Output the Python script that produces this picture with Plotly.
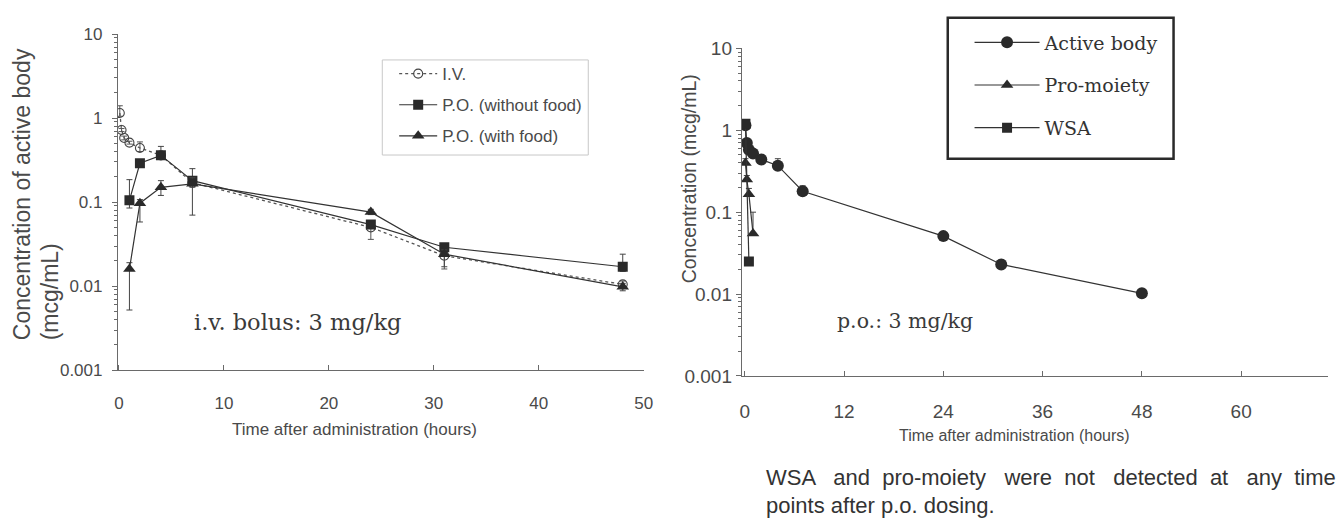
import plotly.graph_objects as go

# ---------------- data (left panel: i.v. bolus 3 mg/kg) ----------------
iv_time = [0.083, 0.25, 0.5, 1, 2, 4, 7, 24, 31, 48]
iv_conc = [1.15, 0.72, 0.58, 0.51, 0.44, 0.36, 0.17, 0.05, 0.023, 0.0105]
iv_err_plus = [0.25, 0.03, 0.03, 0.02, 0.08, 0.02, 0.02, 0.004, 0.002, 0.001]
iv_err_minus = [0.1, 0.03, 0.03, 0.02, 0.04, 0.02, 0.02, 0.014, 0.007, 0.001]

po_time = [1, 2, 4, 7, 24, 31, 48]
po_nofood_conc = [0.105, 0.29, 0.36, 0.18, 0.054, 0.029, 0.017]
po_nofood_plus = [0.08, 0.03, 0.1, 0.07, 0.005, 0.003, 0.007]
po_nofood_minus = [0.02, 0.02, 0.03, 0.02, 0.004, 0.004, 0.002]

po_food_conc = [0.016, 0.097, 0.15, 0.165, 0.076, 0.024, 0.0098]
po_food_plus = [0.003, 0.01, 0.03, 0.03, 0.006, 0.003, 0.001]
po_food_minus = [0.0108, 0.039, 0.03, 0.095, 0.005, 0.007, 0.001]

# ---------------- data (right panel: p.o. 3 mg/kg) ----------------
ab_time = [0.083, 0.25, 0.5, 1, 2, 4, 7, 24, 31, 48]
ab_conc = [1.15, 0.7, 0.58, 0.52, 0.44, 0.37, 0.18, 0.051, 0.023, 0.0102]
ab_err_plus = [0.1, 0.05, 0.03, 0.03, 0.03, 0.08, 0.03, 0.003, 0.003, 0.001]

pm_time = [0.083, 0.25, 0.5, 1]
pm_conc = [0.4, 0.25, 0.165, 0.055]
pm_err_plus = [0.05, 0.03, 0.03, 0.045]

wsa_time = [0.083, 0.5]
wsa_conc = [1.2, 0.025]
wsa_err_plus = [0.1, 0.0]

log_ticks = [0.001, 0.01, 0.1, 1, 10]
log_tick_text = ["0.001", "0.01", "0.1", "1", "10"]
log_minor = [k * 10.0 ** e for e in range(-3, 1) for k in range(2, 10)]
left_xticks = [0, 10, 20, 30, 40, 50]
right_xticks = [0, 12, 24, 36, 48, 60]

# ---------------- layout helpers ----------------
W, H = 1341, 531
def px(x):
    return x / W
def py(y):
    return 1 - y / H

SANS = "Arial, Liberation Sans, sans-serif"
SERIF = "DejaVu Serif, Liberation Serif, serif"
LINE = "#333333"
MK = "#2a2a2a"
AX = "#6a6a6a"
TXT = "#4a4a4a"

fig = go.Figure()

# left traces
fig.add_trace(go.Scatter(
    x=iv_time, y=iv_conc, name="I.V.", mode="lines+markers",
    line=dict(color="#555555", width=1.3, dash="dot"),
    marker=dict(symbol="circle-open", size=9, color="#444444", line=dict(width=1.1)),
    error_y=dict(type="data", symmetric=False, array=iv_err_plus, arrayminus=iv_err_minus,
                 color="#555555", thickness=1, width=3),
    xaxis="x", yaxis="y", legend="legend", legendgroup="a"))
fig.add_trace(go.Scatter(
    x=po_time, y=po_nofood_conc, name="P.O. (without food)", mode="lines+markers",
    line=dict(color=LINE, width=1.2),
    marker=dict(symbol="square", size=10, color=MK),
    error_y=dict(type="data", symmetric=False, array=po_nofood_plus, arrayminus=po_nofood_minus,
                 color="#444444", thickness=1, width=3),
    xaxis="x", yaxis="y", legend="legend", legendgroup="b"))
fig.add_trace(go.Scatter(
    x=po_time, y=po_food_conc, name="P.O. (with food)", mode="lines+markers",
    line=dict(color=LINE, width=1.2),
    marker=dict(symbol="triangle-up", size=11, color=MK),
    error_y=dict(type="data", symmetric=False, array=po_food_plus, arrayminus=po_food_minus,
                 color="#444444", thickness=1, width=3),
    xaxis="x", yaxis="y", legend="legend", legendgroup="c"))

# right traces
fig.add_trace(go.Scatter(
    x=ab_time, y=ab_conc, name="Active body", mode="lines+markers",
    line=dict(color=LINE, width=1.2),
    marker=dict(symbol="circle", size=12, color=MK),
    error_y=dict(type="data", symmetric=False, array=ab_err_plus,
                 arrayminus=[0] * len(ab_conc), color="#444444", thickness=1, width=3),
    xaxis="x2", yaxis="y2", legend="legend2", legendgroup="d"))
fig.add_trace(go.Scatter(
    x=pm_time, y=pm_conc, name="Pro-moiety", mode="lines+markers",
    line=dict(color=LINE, width=1.2),
    marker=dict(symbol="triangle-up", size=11, color=MK),
    error_y=dict(type="data", symmetric=False, array=pm_err_plus,
                 arrayminus=[0] * len(pm_conc), color="#444444", thickness=1, width=3),
    xaxis="x2", yaxis="y2", legend="legend2", legendgroup="e"))
fig.add_trace(go.Scatter(
    x=wsa_time, y=wsa_conc, name="WSA", mode="lines+markers",
    line=dict(color=LINE, width=1.2),
    marker=dict(symbol="square", size=10, color=MK),
    error_y=dict(type="data", symmetric=False, array=wsa_err_plus,
                 arrayminus=[0] * len(wsa_conc), color="#444444", thickness=1, width=3),
    xaxis="x2", yaxis="y2", legend="legend2", legendgroup="f"))

axis_common = dict(showgrid=False, zeroline=False, showline=True, linecolor=AX, linewidth=1,
                   tickcolor=AX, ticklen=5, tickwidth=1)

fig.update_layout(
    width=W, height=H, autosize=False,
    margin=dict(l=0, r=0, t=0, b=0),
    paper_bgcolor="white", plot_bgcolor="white",
    xaxis=dict(axis_common, domain=[px(115), px(646)], range=[-0.1, 50],
               tickvals=left_xticks, ticks="inside", ticklabelstandoff=17,
               tickfont=dict(family=SANS, size=17, color=TXT), anchor="y"),
    yaxis=dict(axis_common, domain=[py(375), py(25)], type="log", range=[-3, 1],
               tickvals=log_ticks, ticktext=log_tick_text, ticks="outside",
               ticklabelstandoff=6,
               minor=dict(ticks="outside", ticklen=3, tickcolor=AX, showgrid=False,
                          tickvals=log_minor),
               tickfont=dict(family=SANS, size=17, color=TXT), anchor="x"),
    xaxis2=dict(axis_common, domain=[px(745), px(1337)], range=[-0.36, 70.5],
                tickvals=right_xticks, ticks="inside", ticklabelstandoff=18,
                tickfont=dict(family=SANS, size=19, color=TXT), anchor="y2"),
    yaxis2=dict(axis_common, domain=[py(381), py(40)], type="log", range=[-3, 1],
                tickvals=log_ticks, ticktext=log_tick_text, ticks="outside",
                ticklabelstandoff=0,
                minor=dict(ticks="outside", ticklen=3, tickcolor=AX, showgrid=False,
                           tickvals=log_minor),
                tickfont=dict(family=SANS, size=19, color=TXT), anchor="x2"),
    legend=dict(x=px(394), y=py(48), xanchor="left", yanchor="top",
                bgcolor="rgba(0,0,0,0)", borderwidth=0, itemwidth=38,
                tracegroupgap=6, font=dict(family=SANS, size=17, color=TXT)),
    legend2=dict(x=px(975), y=py(14), xanchor="left", yanchor="top",
                 bgcolor="rgba(0,0,0,0)", borderwidth=0, itemwidth=65,
                 tracegroupgap=15, font=dict(family=SERIF, size=19, color="#333333")),
    showlegend=True,
)

# legend frames
fig.add_shape(type="rect", xref="paper", yref="paper",
              x0=px(382), x1=px(590), y0=py(151), y1=py(52),
              line=dict(color="#c8c8c8", width=1))
fig.add_shape(type="rect", xref="paper", yref="paper",
              x0=px(953), x1=px(1181), y0=py(155), y1=py(8),
              line=dict(color="#2a2a2a", width=2.5))

ann = []
# axis titles
ann.append(dict(text="Concentration of active body", x=px(19), y=py(346), xref="paper", yref="paper",
                xanchor="center", yanchor="bottom", textangle=-90, showarrow=False,
                font=dict(family=SANS, size=23, color=TXT)))
ann.append(dict(text="(mcg/mL)", x=px(46), y=py(346), xref="paper", yref="paper",
                xanchor="center", yanchor="bottom", textangle=-90, showarrow=False,
                font=dict(family=SANS, size=23, color=TXT)))
ann.append(dict(text="Time after administration (hours)", x=px(354), y=py(437), xref="paper", yref="paper",
                xanchor="center", yanchor="middle", showarrow=False,
                font=dict(family=SANS, size=17, color=TXT)))
ann.append(dict(text="Concentration (mcg/mL)", x=px(692), y=py(176), xref="paper", yref="paper",
                xanchor="center", yanchor="middle", textangle=-90, showarrow=False,
                font=dict(family=SANS, size=19.5, color=TXT)))
ann.append(dict(text="Time after administration (hours)", x=px(1020), y=py(443), xref="paper", yref="paper",
                xanchor="center", yanchor="middle", showarrow=False,
                font=dict(family=SANS, size=16, color=TXT)))
# panel labels
ann.append(dict(text="i.v. bolus: 3 mg/kg", x=px(190), y=py(325), xref="paper", yref="paper",
                xanchor="left", yanchor="middle", showarrow=False,
                font=dict(family=SERIF, size=22.5, color="#3a3a3a")))
ann.append(dict(text="p.o.: 3 mg/kg", x=px(839), y=py(324), xref="paper", yref="paper",
                xanchor="left", yanchor="middle", showarrow=False,
                font=dict(family=SERIF, size=20.5, color="#3a3a3a")))
# note (justified in the original, so extra word spacing)
ann.append(dict(text="WSA   and  pro-moiety   were  not   detected  at   any  time", x=px(767), y=py(487),
                xref="paper", yref="paper", xanchor="left", yanchor="middle", showarrow=False,
                font=dict(family=SANS, size=22, color="#333333")))
ann.append(dict(text="points after p.o. dosing.", x=px(767), y=py(516),
                xref="paper", yref="paper", xanchor="left", yanchor="middle", showarrow=False,
                font=dict(family=SANS, size=22, color="#333333")))
fig.update_layout(annotations=ann)

fig.write_html("out.html")
